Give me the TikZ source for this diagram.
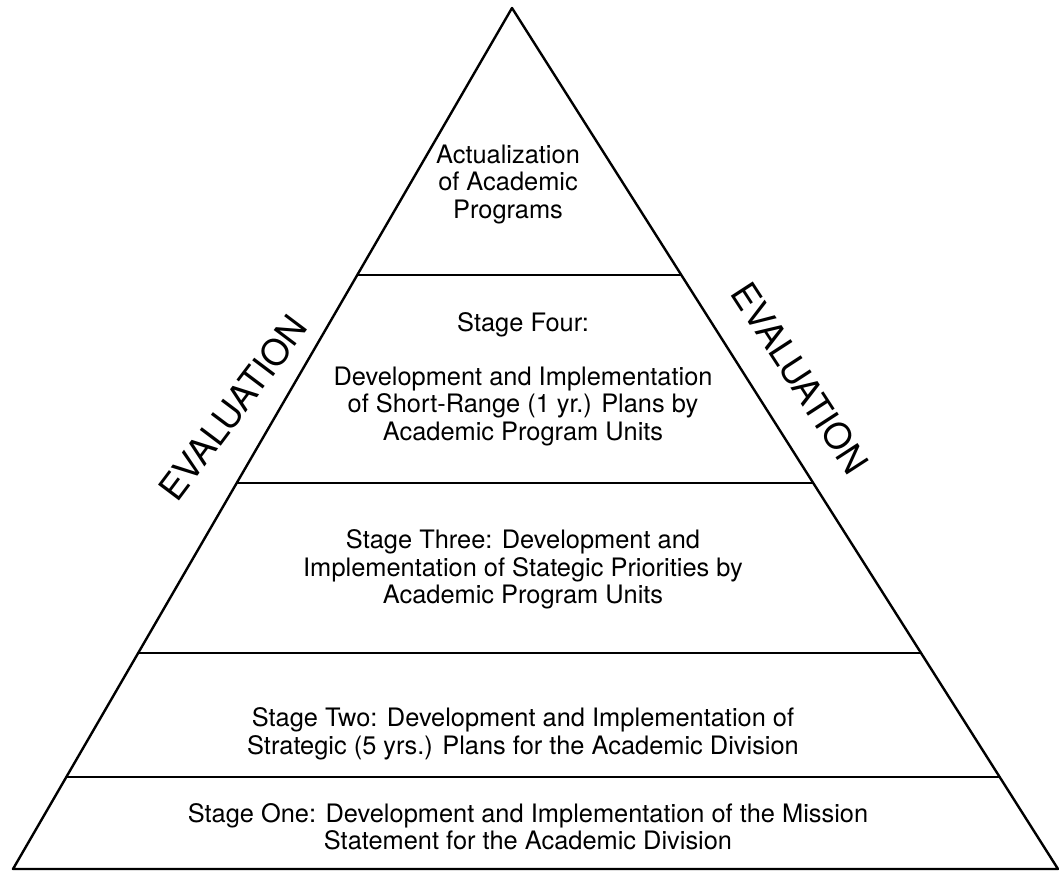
\documentclass[tikz,border=0pt]{standalone}
\usepackage{fontspec}
\setmainfont{TeX Gyre Heros}
\usetikzlibrary{calc}
\begin{document}
\begin{tikzpicture}[x=1pt,y=-1pt,
  edge/.style={line width=2.4pt,line join=round,line cap=round},
  tier/.style={line width=2.2pt},
  stagetext/.style={align=center,inner sep=0pt,
    font=\fontsize{25.4pt}{27.5pt}\selectfont},
  evaltext/.style={inner sep=0pt,font=\fontsize{36pt}{40pt}\selectfont}]
  \useasboundingbox[fill=white] (0,0) rectangle (1059,873);

  % corners of the pyramid
  \coordinate (apex) at (512,8);
  \coordinate (bl) at (13,869);
  \coordinate (br) at (1058,869);

  % outline
  \draw[edge] (bl) -- (apex) -- (br) -- cycle;

  % tier boundaries, ending on the sloped sides
  \foreach \yy/\nm in {275/a,483/b,653/c,777/d}{
    \coordinate (l\nm) at ($(bl)!{(869-\yy)/861}!(apex)$);
    \coordinate (r\nm) at ($(br)!{(869-\yy)/861}!(apex)$);
    \draw[tier] (l\nm) -- (r\nm);
  }

  % tier texts
  \node[stagetext] (top) at (508,184.5)
    {Actualization\\of Academic\\Programs};
  \node[stagetext] (four) at (523,379)
    {Stage Four:\\[26.5pt]Development and Implementation\\of Short-Range (1 yr.) Plans by\\Academic Program Units};
  \node[stagetext] (three) at (523,569.5)
    {Stage Three: Development and\\Implementation of Stategic Priorities by\\Academic Program Units};
  \node[stagetext] (two) at (523,734)
    {Stage Two: Development and Implementation of\\Strategic (5 yrs.) Plans for the Academic Division};
  \node[stagetext] (one) at (528,826.5)
    {Stage One: Development and Implementation of the Mission\\Statement for the Academic Division};

  % side labels
  \node[evaltext,rotate=53] (evalleft) at (233,408) {EVALUATION};
  \node[evaltext,rotate=-57] (evalright) at (800,378) {EVALUATION};
\end{tikzpicture}
\end{document}
